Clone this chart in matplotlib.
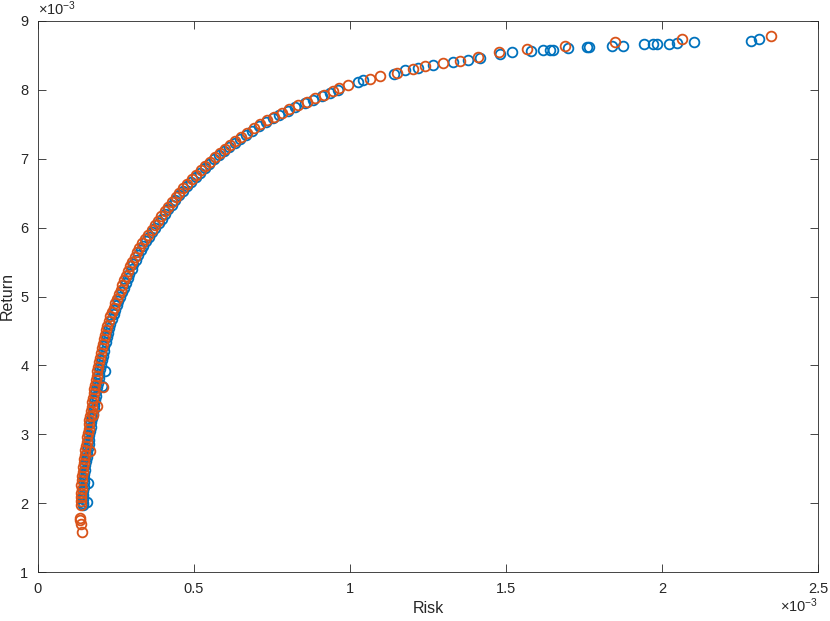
import matplotlib
matplotlib.use('Agg')
import matplotlib.pyplot as plt
from matplotlib.ticker import FuncFormatter

plt.rcParams['font.family'] = ['Liberation Sans', 'DejaVu Sans']
plt.rcParams['mathtext.fontset'] = 'custom'
plt.rcParams['mathtext.rm'] = 'Liberation Sans'
plt.rcParams['mathtext.it'] = 'Liberation Sans'

scale = 1e-3  # values below are in units of 1e-3

# series 1 (blue)
risk1 = [0.143, 0.156, 0.161, 0.144, 0.144, 0.145, 0.145, 0.146, 0.147, 0.148, 0.149, 0.151, 0.152,
         0.154, 0.156, 0.158, 0.160, 0.162, 0.164, 0.165, 0.167, 0.169, 0.171, 0.173, 0.175, 0.178,
         0.180, 0.182, 0.185, 0.187, 0.189, 0.191, 0.194, 0.196, 0.198, 0.201, 0.204, 0.207, 0.210,
         0.213, 0.217, 0.220, 0.224, 0.228, 0.232, 0.237, 0.242, 0.247, 0.253, 0.258, 0.264, 0.269,
         0.275, 0.281, 0.287, 0.293, 0.300, 0.306, 0.313, 0.321, 0.329, 0.337, 0.346, 0.356, 0.365,
         0.376, 0.387, 0.396, 0.407, 0.418, 0.428, 0.440, 0.453, 0.465, 0.478, 0.491, 0.505, 0.518,
         0.534, 0.548, 0.565, 0.580, 0.596, 0.613, 0.630, 0.648, 0.667, 0.687, 0.708, 0.730, 0.753,
         0.774, 0.800, 0.825, 0.855, 0.882, 0.910, 0.937, 0.960, 0.205, 0.215,
         1.026, 1.042, 1.142, 1.176, 1.218, 1.266, 1.330, 1.378, 1.417, 1.480, 1.520, 1.580, 1.618,
         1.641, 1.651, 1.699, 1.759, 1.766, 1.839, 1.874, 1.942, 1.971, 1.984, 2.022, 2.047, 2.103,
         2.284, 2.311]
ret1 = [1.98, 2.01, 2.29, 2.00, 2.06, 2.12, 2.18, 2.24, 2.30, 2.36, 2.42, 2.48, 2.55,
        2.61, 2.67, 2.73, 2.80, 2.86, 2.92, 2.99, 3.05, 3.11, 3.18, 3.24, 3.30, 3.37,
        3.43, 3.50, 3.56, 3.63, 3.69, 3.75, 3.82, 3.88, 3.95, 4.01, 4.08, 4.14, 4.21,
        4.28, 4.34, 4.41, 4.47, 4.54, 4.60, 4.67, 4.74, 4.80, 4.87, 4.93, 5.00, 5.07,
        5.13, 5.20, 5.27, 5.33, 5.40, 5.47, 5.53, 5.60, 5.67, 5.73, 5.80, 5.87, 5.93,
        6.00, 6.07, 6.13, 6.20, 6.27, 6.33, 6.40, 6.47, 6.53, 6.60, 6.66, 6.73, 6.79,
        6.86, 6.92, 6.99, 7.05, 7.11, 7.17, 7.23, 7.29, 7.35, 7.41, 7.47, 7.53, 7.59,
        7.64, 7.70, 7.75, 7.81, 7.86, 7.91, 7.96, 8.00, 3.70, 3.92,
        8.11, 8.14, 8.23, 8.29, 8.32, 8.36, 8.41, 8.44, 8.47, 8.52, 8.55, 8.56, 8.576,
        8.586, 8.586, 8.601, 8.624, 8.624, 8.634, 8.639, 8.663, 8.673, 8.673, 8.673, 8.682, 8.688,
        8.711, 8.736]

# series 2 (orange)
risk2 = [0.140, 0.137, 0.135, 0.134,
         0.138, 0.137, 0.139, 0.138, 0.140, 0.139, 0.141, 0.142, 0.143, 0.145, 0.146, 0.148, 0.150,
         0.152, 0.154, 0.156, 0.158, 0.160, 0.162, 0.163, 0.165, 0.168, 0.170, 0.172, 0.174, 0.177,
         0.179, 0.181, 0.183, 0.186, 0.188, 0.190, 0.192, 0.195, 0.198, 0.201, 0.204, 0.207, 0.211,
         0.214, 0.218, 0.222, 0.227, 0.232, 0.237, 0.243, 0.248, 0.254, 0.259, 0.265, 0.270, 0.277,
         0.283, 0.289, 0.296, 0.302, 0.310, 0.318, 0.325, 0.334, 0.344, 0.353, 0.364, 0.375, 0.384,
         0.395, 0.406, 0.416, 0.428, 0.441, 0.452, 0.466, 0.478, 0.493, 0.505, 0.521, 0.535, 0.551,
         0.566, 0.582, 0.598, 0.615, 0.633, 0.652, 0.671, 0.691, 0.713, 0.735, 0.755, 0.781, 0.805,
         0.834, 0.861, 0.889, 0.917, 0.944, 0.966, 0.994,
         0.188, 0.207, 0.177, 0.167,
         1.064, 1.096, 1.151, 1.202, 1.240, 1.298, 1.353, 1.410, 1.478, 1.567, 1.689, 1.849, 2.063,
         2.349]
ret2 = [1.58, 1.70, 1.75, 1.79,
        1.97, 2.03, 2.09, 2.15, 2.21, 2.27, 2.33, 2.39, 2.45, 2.52, 2.58, 2.64, 2.70,
        2.77, 2.83, 2.89, 2.96, 3.02, 3.08, 3.15, 3.21, 3.27, 3.34, 3.40, 3.47, 3.53,
        3.60, 3.66, 3.72, 3.79, 3.85, 3.92, 3.98, 4.05, 4.11, 4.18, 4.25, 4.31, 4.38,
        4.44, 4.51, 4.57, 4.64, 4.71, 4.77, 4.84, 4.90, 4.97, 5.04, 5.10, 5.17, 5.24,
        5.30, 5.37, 5.44, 5.50, 5.57, 5.64, 5.70, 5.77, 5.84, 5.90, 5.97, 6.04, 6.10,
        6.17, 6.24, 6.30, 6.37, 6.44, 6.50, 6.57, 6.63, 6.70, 6.76, 6.83, 6.89, 6.96,
        7.02, 7.08, 7.14, 7.20, 7.26, 7.32, 7.38, 7.44, 7.50, 7.56, 7.61, 7.67, 7.72,
        7.78, 7.83, 7.88, 7.93, 7.98, 8.02, 8.07,
        3.41, 3.68, 3.28, 2.75,
        8.16, 8.20, 8.24, 8.30, 8.34, 8.39, 8.42, 8.48, 8.55, 8.59, 8.64, 8.69, 8.74,
        8.78]

blue = '#0072BD'
orange = '#D95319'
axcol = '#262626'

fig = plt.figure(figsize=(8.3, 6.21), dpi=100)
ax = fig.add_axes([38/830, 1-572/621, 780/830, 551/621])

ax.plot([v*scale for v in risk1], [v*scale for v in ret1], 'o', ms=7, mfc='none',
        mec=blue, mew=1.3, ls='none')
ax.plot([v*scale for v in risk2], [v*scale for v in ret2], 'o', ms=7, mfc='none',
        mec=orange, mew=1.3, ls='none')

ax.set_xlim(0, 2.5e-3)
ax.set_ylim(1e-3, 9e-3)
ax.set_xticks([i*0.5e-3 for i in range(6)])
ax.set_yticks([i*1e-3 for i in range(1, 10)])
fmt = FuncFormatter(lambda v, _: f'{v*1e3:g}')
ax.xaxis.set_major_formatter(fmt)
ax.yaxis.set_major_formatter(fmt)

for s in ax.spines.values():
    s.set_color(axcol)
    s.set_linewidth(0.6)
ax.tick_params(direction='in', top=True, right=True, length=5.5, width=0.6,
               colors=axcol, labelsize=10.5, pad=7)

ax.set_xlabel('Risk', fontsize=11.5, color=axcol, labelpad=4)
ax.set_ylabel('Return', fontsize=11.5, color=axcol, labelpad=4)

ax.text(0.0, 1.005, r'$\times10^{-3}$', transform=ax.transAxes, ha='left', va='bottom',
        fontsize=10.5, color=axcol)
ax.text(1.0, -0.045, r'$\times10^{-3}$', transform=ax.transAxes, ha='right', va='top',
        fontsize=10.5, color=axcol)

fig.savefig('out.png', dpi=100)
